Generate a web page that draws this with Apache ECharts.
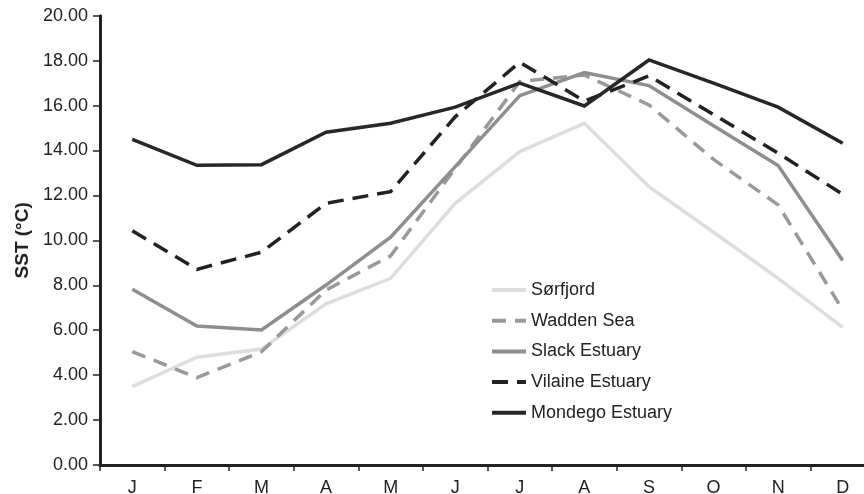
<!DOCTYPE html>
<html><head><meta charset="utf-8">
<script src="https://cdn.jsdelivr.net/npm/echarts@6/dist/echarts.min.js"></script>
<style>html,body{margin:0;padding:0;background:#fff}#c{width:864px;height:494px}</style>
</head><body><div id="c"></div>
<script>
var months = ['J','F','M','A','M','J','J','A','S','O','N','D'];
var yTicks = [0,2,4,6,8,10,12,14,16,18,20];
var sorfjord = [3.49,4.80,5.16,7.17,8.31,11.65,13.95,15.21,12.39,10.36,8.31,6.13];
var wadden   = [5.05,3.89,5.04,7.79,9.31,13.2,17.07,17.36,16.03,13.6,11.58,6.9];
var slack    = [7.82,6.19,6.01,8.01,10.14,13.28,16.44,17.47,16.89,15.1,13.33,9.1];
var vilaine  = [10.43,8.71,9.47,11.65,12.17,15.5,17.93,16.2,17.32,15.6,13.88,12.05];
var mondego  = [14.50,13.34,13.37,14.81,15.21,15.93,17.0,15.98,18.03,17.0,15.93,14.32];
var names = ['Sørfjord','Wadden Sea','Slack Estuary','Vilaine Estuary','Mondego Estuary'];

var FONT = 'Liberation Sans, Arial, sans-serif';
function ser(name, data, color, dash, z) {
  return {
    name: name, type: 'line', data: data, symbol: 'none', showSymbol: false, z: z,
    lineStyle: { color: color, width: 3.5, type: dash, cap: 'butt', join: 'miter' },
    itemStyle: { color: color }
  };
}
var chart = echarts.init(document.getElementById('c'), null, {renderer: 'canvas'});
chart.setOption({
  animation: false,
  backgroundColor: '#fff',
  textStyle: { fontFamily: FONT },
  grid: { left: 100, top: 15.7, width: 775, bottom: 29, containLabel: false, outerBoundsMode: 'none' },
  legend: {
    orient: 'vertical', left: 490, top: 281, padding: 0,
    itemWidth: 34, itemHeight: 18, itemGap: 12.7,
    itemStyle: { opacity: 0 },
    lineStyle: { width: 4 },
    textStyle: { fontSize: 18, lineHeight: 18, color: '#222', fontFamily: FONT },
    data: names
  },
  xAxis: {
    type: 'category', data: months, boundaryGap: true,
    axisLine: { lineStyle: { color: '#222', width: 3 } },
    axisTick: { show: true, length: 6, lineStyle: { color: '#222', width: 1.5 } },
    axisLabel: { fontSize: 18, color: '#222', margin: 14 },
    splitLine: { show: false }
  },
  yAxis: {
    type: 'value', min: 0, max: 20, interval: 2,
    name: 'SST (°C)', nameLocation: 'middle', nameGap: 68, nameRotate: 90,
    nameTextStyle: { fontSize: 19, fontWeight: 'bold', color: '#222' },
    axisLine: { show: true, lineStyle: { color: '#222', width: 3 } },
    axisTick: { show: true, length: 7, lineStyle: { color: '#222', width: 1.5 } },
    axisLabel: { fontSize: 18, color: '#222', margin: 12, formatter: function (v) { return v.toFixed(2); } },
    splitLine: { show: false }
  },
  series: [
    ser(names[0], sorfjord, '#dddddd', 'solid', 2),
    ser(names[1], wadden, '#999999', [14, 9], 3),
    ser(names[2], slack, '#8e8e8e', 'solid', 4),
    ser(names[3], vilaine, '#222222', [16, 9], 5),
    ser(names[4], mondego, '#272727', 'solid', 6)
  ]
});
</script></body></html>
